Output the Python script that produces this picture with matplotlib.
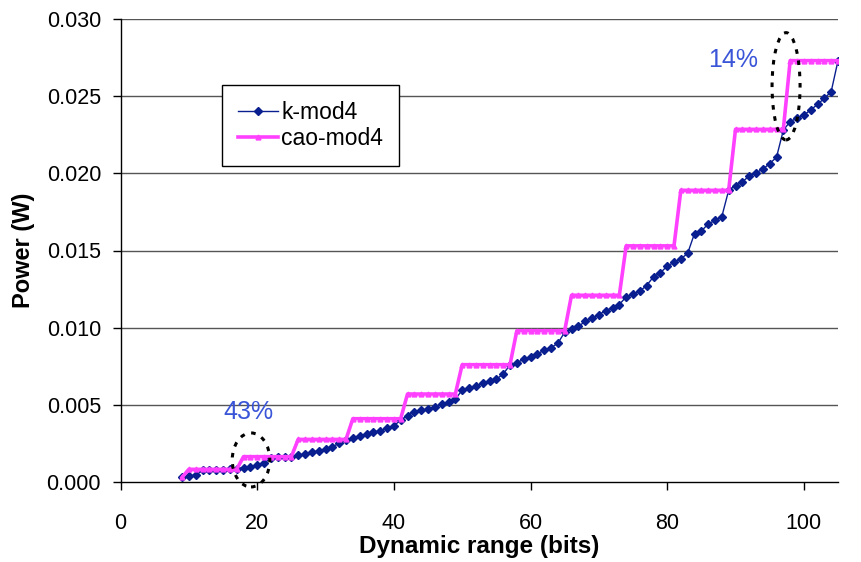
import matplotlib as mpl
mpl.use('Agg')
import matplotlib.pyplot as plt
from matplotlib.patches import Ellipse

plt.rcParams['font.family'] = ['Liberation Sans', 'DejaVu Sans']

# dynamic range in bits, one point per bit
bits = list(range(9, 106))

# k-mod4 power (W)
k_mod4 = [
    0.00030, 0.00038, 0.00045, 0.00075, 0.00077, 0.00079, 0.00080, 0.00082, 0.00085,
    0.00092, 0.00100, 0.00110, 0.00120, 0.00158, 0.00160, 0.00162, 0.00165,
    0.00175, 0.00180, 0.00192, 0.00203, 0.00214, 0.00229, 0.00250, 0.00270,
    0.00287, 0.00300, 0.00311, 0.00322, 0.00333, 0.00348, 0.00365, 0.00400,
    0.00430, 0.00456, 0.00465, 0.00470, 0.00484, 0.00505, 0.00520, 0.00536,
    0.00596, 0.00607, 0.00622, 0.00640, 0.00654, 0.00665, 0.00700, 0.00758,
    0.00773, 0.00795, 0.00812, 0.00829, 0.00855, 0.00870, 0.00899, 0.00970,
    0.00993, 0.01008, 0.01040, 0.01060, 0.01085, 0.01110, 0.01130, 0.01150,
    0.01200, 0.01215, 0.01237, 0.01273, 0.01330, 0.01354, 0.01400, 0.01423,
    0.01445, 0.01482, 0.01610, 0.01626, 0.01672, 0.01695, 0.01720, 0.01890,
    0.01921, 0.01944, 0.01983, 0.02003, 0.02027, 0.02063, 0.02104, 0.02280,
    0.02335, 0.02357, 0.02378, 0.02410, 0.02447, 0.02486, 0.02529, 0.02730,
]

# cao-mod4 power (W)
cao_mod4 = [
    0.00030,
    0.00082, 0.00082, 0.00082, 0.00082, 0.00082, 0.00082, 0.00082, 0.00082,
    0.00164, 0.00164, 0.00164, 0.00164, 0.00164, 0.00164, 0.00164, 0.00164,
    0.00276, 0.00276, 0.00276, 0.00276, 0.00276, 0.00276, 0.00276, 0.00276,
    0.00410, 0.00410, 0.00410, 0.00410, 0.00410, 0.00410, 0.00410, 0.00410,
    0.00570, 0.00570, 0.00570, 0.00570, 0.00570, 0.00570, 0.00570, 0.00570,
    0.00760, 0.00760, 0.00760, 0.00760, 0.00760, 0.00760, 0.00760, 0.00760,
    0.00980, 0.00980, 0.00980, 0.00980, 0.00980, 0.00980, 0.00980, 0.00980,
    0.01210, 0.01210, 0.01210, 0.01210, 0.01210, 0.01210, 0.01210, 0.01210,
    0.01530, 0.01530, 0.01530, 0.01530, 0.01530, 0.01530, 0.01530, 0.01530,
    0.01890, 0.01890, 0.01890, 0.01890, 0.01890, 0.01890, 0.01890, 0.01890,
    0.02285, 0.02285, 0.02285, 0.02285, 0.02285, 0.02285, 0.02285, 0.02285,
    0.02730, 0.02730, 0.02730, 0.02730, 0.02730, 0.02730, 0.02730, 0.02730,
]

x_ticks = [0, 20, 40, 60, 80, 100]
y_ticks = [0.000, 0.005, 0.010, 0.015, 0.020, 0.025, 0.030]

fig = plt.figure(figsize=(8.62, 5.62), dpi=100)
ax = fig.add_axes([120.5 / 862, 1 - 482 / 562, (838 - 120.5) / 862, 463 / 562])

ax.plot(bits, k_mod4, color='#0a1f8f', lw=1.0, marker='D', markersize=3.8,
        label='k-mod4', zorder=3)
ax.plot(bits, cao_mod4, color='#ff40ff', lw=2.6, marker='^', markersize=3.5,
        label='cao-mod4', zorder=4)

ax.set_xlim(0, 105)
ax.set_ylim(0, 0.030)
ax.set_xticks(x_ticks)
ax.set_yticks(y_ticks)
ax.set_yticklabels(['%.3f' % v for v in y_ticks])
ax.tick_params(axis='both', direction='out', length=6, width=1, labelsize=15.5,
               colors='black')
ax.tick_params(axis='y', pad=8)
ax.tick_params(axis='x', pad=16)

for v in y_ticks[1:]:
    ax.axhline(v, color='#555555', lw=1.0, zorder=1)

for side in ['top', 'right']:
    ax.spines[side].set_visible(False)
ax.spines['left'].set_linewidth(1.0)
ax.spines['bottom'].set_linewidth(1.0)

ax.set_xlabel('Dynamic range (bits)', fontsize=17.5, fontweight='bold', labelpad=1)
ax.set_ylabel('Power (W)', fontsize=17, fontweight='bold', labelpad=8)

leg = ax.legend(loc='upper left', bbox_to_anchor=(0.1415, 0.857), fontsize=16.5,
                frameon=True, fancybox=False, edgecolor='black', framealpha=1,
                handlelength=1.75, handletextpad=0.15, borderpad=0.68,
                labelspacing=0.15, borderaxespad=0)
leg.get_frame().set_linewidth(1.0)

# savings callouts
ax.text(18.7, 0.00454, '43%', color='#3a55d8', fontsize=18, ha='center', va='center')
ax.text(89.6, 0.02734, '14%', color='#3a55d8', fontsize=18, ha='center', va='center')

ax.add_patch(Ellipse((19.1, 0.00143), 5.5, 0.0035, fill=False, edgecolor='black',
                     lw=2.2, linestyle=(0, (1.5, 2.2)), zorder=5, clip_on=False))
ax.add_patch(Ellipse((97.4, 0.02564), 4.1, 0.00695, fill=False,
                     edgecolor='black', lw=2.2, linestyle=(0, (1.5, 2.2)), zorder=5))

fig.savefig('out.png', dpi=100)
